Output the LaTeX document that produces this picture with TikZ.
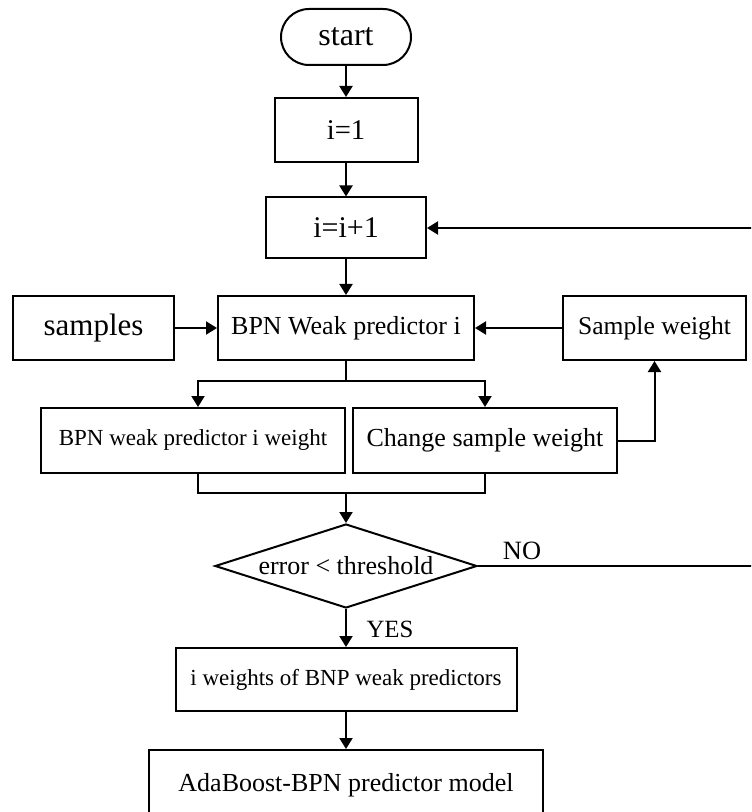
\documentclass[tikz,border=0pt]{standalone}
\usepackage{fontspec}
\setmainfont{Liberation Serif}
\usetikzlibrary{shapes, arrows.meta, positioning, calc}

\begin{document}
\begin{tikzpicture}[x=0.5pt, y=-0.5pt,
  box/.style={draw, line width=1pt, inner sep=0pt, align=center, font=\fontsize{13}{15}\selectfont},
  arr/.style={line width=1pt, -{Triangle[length=5.5pt, width=6.5pt]}},
  link/.style={line width=1pt}]
  \clip (0,0) rectangle (751,812);

  % main column
  \node[box, rounded corners=14pt, minimum width=65pt, minimum height=28pt, font=\fontsize{16}{18}\selectfont] (start) at (346,37) {start};
  \node[box, minimum width=71.5pt, minimum height=32pt, font=\fontsize{14.3}{16}\selectfont] (init) at (346,130) {i=1};
  \node[box, minimum width=80pt, minimum height=30.5pt, font=\fontsize{15}{17}\selectfont] (incr) at (346,228) {i=i+1};
  \node[box, minimum width=128pt, minimum height=32pt] (weak) at (346,328) {BPN Weak predictor i};
  \node[box, minimum width=80.5pt, minimum height=32pt, font=\fontsize{15.5}{17}\selectfont] (samples) at (93.5,328) {samples};
  \node[box, minimum width=91.5pt, minimum height=32pt, font=\fontsize{12.8}{15}\selectfont] (sweight) at (654.5,328) {Sample weight};
  \node[box, minimum width=152pt, minimum height=32.5pt, font=\fontsize{11.5}{13}\selectfont] (pweight) at (193,440.5) {BPN weak predictor i weight};
  \node[box, minimum width=132pt, minimum height=32.5pt] (change) at (485,440.5) {Change sample weight};
  \node[box, diamond, aspect=3.1, minimum width=131pt, minimum height=42pt] (check) at (346,566) {error < threshold};
  \node[box, minimum width=170.5pt, minimum height=31.5pt, font=\fontsize{11.5}{13}\selectfont] (iweights) at (346,679.5) {i weights of BNP weak predictors};
  \node[box, minimum width=197pt, minimum height=35pt] (model) at (346,785) {AdaBoost-BPN predictor model};

  \coordinate (split) at (346,381);
  \coordinate (merge) at (346,493);
  \coordinate (noend) at (760,566);
  \coordinate (loopend) at (760,228);

  % connectors
  \draw[arr] (start) -- (init);
  \draw[arr] (init) -- (incr);
  \draw[arr] (incr) -- (weak);
  \draw[arr] (samples) -- (weak);
  \draw[arr] (sweight) -- (weak);
  \draw[link] (weak.south) -- (split);
  \draw[arr] (split) -| ([xshift=2.5pt]pweight.north);
  \draw[arr] (split) -| (change.north);
  \draw[arr] (change.east) -| (sweight.south);
  \draw[link] ([xshift=2.5pt]pweight.south) |- (merge);
  \draw[link] (change.south) |- (merge);
  \draw[arr] (merge) -- (check.north);
  \draw[arr] (check.east) -- (noend) -- (loopend) -- (incr.east);
  \draw[arr] (check.south) -- (iweights.north);
  \draw[arr] (iweights) -- (model);

  \node[font=\fontsize{13.2}{15}\selectfont] (no) at (522,551) {NO};
  \node[font=\fontsize{12.4}{14}\selectfont] (yes) at (390,629) {YES};
\end{tikzpicture}
\end{document}
